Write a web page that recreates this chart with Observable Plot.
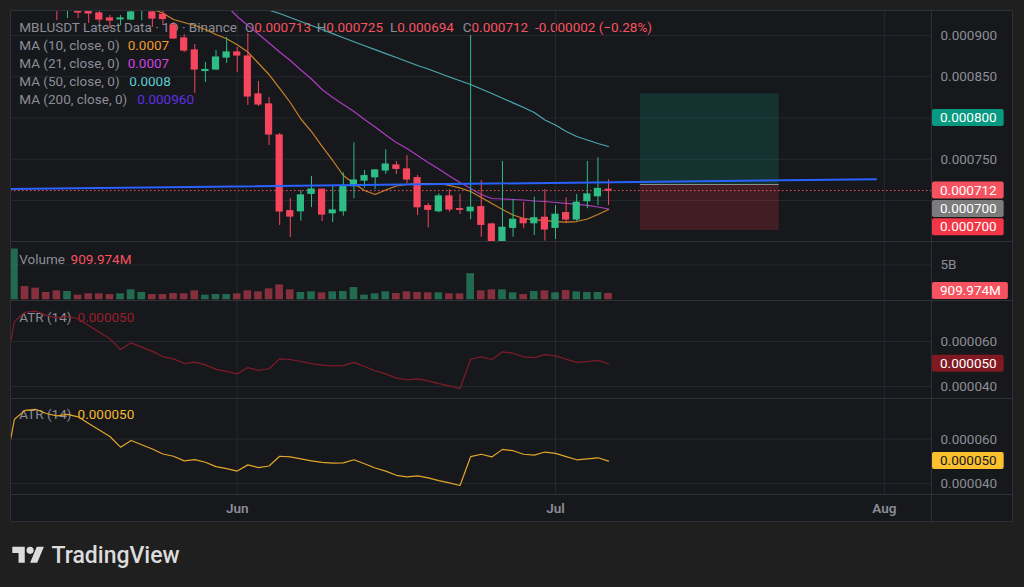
<!DOCTYPE html>
<html>
<head>
<meta charset="utf-8">
<script src="https://cdn.jsdelivr.net/npm/d3@7"></script>
<script src="https://cdn.jsdelivr.net/npm/@observablehq/plot@0.6"></script>
<style>
html,body{margin:0;padding:0;background:#1f1f1f;}
#root{position:relative;width:1024px;height:587px;background:#1f1f1f;overflow:hidden;font-family:Roboto,"Noto Sans",sans-serif;}
#frame{position:absolute;left:10px;top:10px;width:1003px;height:512px;background:#17181c;}
.pane{position:absolute;left:10px;}
.pane svg{display:block;}
.overlay{position:absolute;left:0;top:0;}
</style>
</head>
<body>
<div id="root"><div id="frame"></div></div>
<script>
// ================= DATA (prices in millionths of USDT, volume in billions) =================
const symbolTitle = "MBLUSDT Latest Data · 1D · Binance";
const firstDay = "2024-05-11";
const monthTicks = ["2024-06-01", "2024-07-01", "2024-08-01"];

const openU  = [1000,1100,1030,1000,965,940,945,932,926.7,920.6,919.6,919.4,935,927.9,925,912.1,896.4,881.8,857,858.8,873.3,879.4,874.5,828.5,816.4,778.8,687,687,708.1,713,684.6,687,717.3,724.2,728.2,736.4,742.4,737.6,727,693.1,687,704.9,689.5,687,691.9,670.9,650.7,666.9,677.3,672.5,679,666.9,684.6,677,699.2,705.2,713];
const highU  = [1200,1120,1050,1010,975,965,955,940,932,924.2,924.2,933,950,935,935,915.8,901,889,867.3,881.8,897.6,885.5,902.4,844.2,824.8,781.2,702.4,712.1,729.1,714,718.2,733.6,769.9,736.4,737,761.5,747.3,754.5,730.3,696.7,708.1,713,707.3,900,724.2,672.5,747.3,701.2,697.9,704,713.3,693.9,703.3,707.3,747.3,751.8,725];
const lowU   = [950,1010,975,950,918,920.6,920.6,914.5,915,908.5,912.1,918,918,909.7,912,895.2,879.4,829.7,843,857.6,866.1,855.2,815.2,813.9,766.7,669.7,655.2,674.9,691.5,674.5,673.3,681,702,714.9,713.3,731.5,731.5,720.2,681.8,666.9,685.1,685.8,683,676.6,655.5,650.5,650.5,655.5,665.7,657.6,650.7,652.7,671.8,674.5,690,694,694];
const closeU = [1100,1030,1000,965,935,955,927.9,926.7,919.4,918.2,920.6,927.9,945,920.6,920,896.4,881.8,858.8,858.2,873.3,879.4,875.8,826.1,816.4,780,686.7,680.6,706.1,713.3,683,687.9,717.3,724.2,729.5,736.4,743.6,738.4,725.5,691.9,688.7,704.9,689.1,688.7,691.2,670.5,650.7,666.9,676.6,672.5,678.5,664.9,682.7,677,697.2,707.3,714,712];
const volumeB = [7.3,1.9,1.67,1.05,1.29,1.19,0.67,0.86,0.86,0.76,0.86,1.43,1.05,0.76,0.76,0.9,0.86,1.29,0.67,0.76,0.76,0.86,1.29,1.14,1.57,2.14,1.43,1.05,1.14,1.0,1.14,1.19,1.76,0.67,0.86,1.14,0.9,1.14,1.05,1.0,1.0,0.86,0.86,3.76,1.29,1.43,1.43,1.0,0.76,1.19,1.29,1.0,1.33,1.14,1.05,1.05,0.909974];

const ma10U = [null,null,null,null,null,null,null,null,null,null,null,null,940,932,926.9,919.4,915.8,912.1,907.3,901.2,896.0,888.7,880.0,866.4,852.7,836.0,818.8,798.8,783.6,765.5,748.5,730.3,720.6,712.1,707.3,712.7,717.6,719.4,720.6,720.6,720.6,718.2,715.2,710.9,703.6,696.4,689.1,682.4,678.2,676.4,675.8,674.5,673.9,674.5,677.6,683.0,689.1];
const ma21U = [null,null,null,null,null,null,null,null,null,null,null,null,null,null,null,null,null,null,null,null,936,923.0,912.1,901.8,890.9,880.0,869.7,858.2,847.3,834.5,824.8,816.4,807.9,798.2,789.1,779.4,770.3,763.0,754.5,746.1,738.2,729.7,721.8,714.5,707.3,702.4,701.8,701.2,700.6,699.4,698.8,697.6,696.4,695.2,694.0,692.1,689.7];
const ma50U = [null,null,null,null,null,null,null,null,null,null,null,null,null,null,null,null,null,null,null,null,null,null,null,935,930.6,926.7,921.8,917.0,912.1,907.3,902.2,897.2,892.4,887.5,882.8,878.1,873.3,868.5,863.6,859.4,854.5,849.7,845.2,840.6,835.2,829.7,824.0,818.3,812.7,806.7,797.6,791.5,783.6,777.6,773.3,769.1,765.5];

// ATR(14) starts one day before the first visible candle
const atrFirstDay = "2024-05-10";
const atrU = [43.6,69.0,73.0,73.5,71.6,70.5,71.2,70.1,67.1,64.1,61.2,56.4,59.4,57.5,55.6,53.3,52.3,50.2,50.8,49.6,47.6,46.7,45.6,48.4,47.2,47.9,52.3,52.0,51.1,50.2,49.5,49.2,49.3,50.7,48.9,47.0,45.6,43.7,43.0,43.4,42.5,41.3,40.3,39.1,52.1,53.2,52.0,55.4,54.8,53.2,52.8,54.2,53.6,52.1,50.7,51.1,51.6,50.1];

// drawn trend line and long-position tool
const trendDates = ["2024-05-10T00:00Z", "2024-07-31T05:00Z"];
const trendU = [713.8, 725.8];
const positionDates = ["2024-07-09T00:00Z", "2024-07-22T02:00Z"];
const positionU = {target: 829.3, entry: 719.4, stop: 663.6};

// legend texts
const maLabels = ["MA (10, close, 0)", "MA (21, close, 0)", "MA (50, close, 0)", "MA (200, close, 0)"];
const maValues = ["0.0007", "0.0007", "0.0008", "0.000960"];
// right-scale markers (price pane)
const priceMarkers = [800, 712, 700, 700];
const priceGridU = [700, 750, 800, 850, 900];
const priceTickU = [750, 850, 900];
const volumeTickB = [5];
const atrTickU = [40, 60];

// ================= STYLE =================
const UP = "#2ebd85", DOWN = "#f6465d";
const VUP = "rgba(46,189,133,0.5)", VDOWN = "rgba(246,70,93,0.5)";
const GRID = "#25282f", SEP = "#2e3037", TXT = "#8b8e97";
const C_MA10 = "#c98427", C_MA21 = "#ad3cc2", C_MA50 = "#4aa9ae";
const L_MA = ["#ef9b2c", "#cf42e0", "#5ccfd6", "#5b30e6"];
const C_ATR1 = "#801c28", C_ATR2 = "#e2a628";
const markerFills = ["#089981", "#f7525f", "#7c7c7c", "#f23645"];

// ================= BUILD =================
const root = document.getElementById("root");
const DAY = 864e5;
const t0 = new Date(firstDay + "T00:00Z");
const shift = (d, k) => new Date(+d + k * DAY);
const dates = d3.utcDay.range(t0, d3.utcDay.offset(t0, openU.length));
const atrStart = new Date(atrFirstDay + "T00:00Z");
const atrDates = d3.utcDay.range(atrStart, d3.utcDay.offset(atrStart, atrU.length));
const months = monthTicks.map(s => new Date(s + "T00:00Z"));
const xDomain = [shift(t0, -0.37), shift(t0, 86.44)];
const fmtP = v => (v / 1e6).toFixed(6);

const candles = dates.map((date, i) => ({date, o: openU[i], h: highU[i], l: lowU[i], c: closeU[i], v: volumeB[i]}));
const isUp = d => d.c >= d.o;
const maSeries = (arr) => dates.map((date, i) => ({date, v: arr[i]})).filter(d => d.v != null);
const atrData = atrDates.map((date, i) => ({date, v: atrU[i]}));
const trend = trendDates.map((s, i) => ({date: new Date(s), v: trendU[i]}));
const position = [{start: new Date(positionDates[0]), end: new Date(positionDates[1]), ...positionU}];
const W = 1003, MR = 82;

// legend layer (beneath the panes, as in the reference)
const under = d3.select(root).append("svg").attr("class", "overlay").attr("width", 1024).attr("height", 587)
  .style("font-family", "Roboto, sans-serif");

function pane(top, height, yDomain, marks, mb = 0) {
  const svg = Plot.plot({
    width: W, height, marginTop: 0, marginBottom: mb, marginLeft: 0, marginRight: MR,
    x: {type: "utc", domain: xDomain, axis: null},
    y: {domain: yDomain, axis: null},
    color: {type: "identity"},
    style: {background: "transparent", color: TXT, fontFamily: "Roboto, sans-serif", fontSize: "13.5px", overflow: "visible"},
    marks
  });
  const div = document.createElement("div");
  div.className = "pane";
  div.style.top = top + "px";
  div.appendChild(svg);
  root.appendChild(div);
  return svg;
}

const lastC = candles[candles.length - 1];
const priceSvg = pane(10, 231, [650.3, 930.3], [
  Plot.gridX(months, {stroke: GRID, strokeOpacity: 1}),
  Plot.gridY(priceGridU, {stroke: GRID, strokeOpacity: 1}),
  Plot.axisY(priceTickU, {anchor: "right", tickSize: 0, tickPadding: 9, tickFormat: fmtP, label: null}),
  Plot.rect(position, {x1: "start", x2: "end", y1: "entry", y2: "target", fill: "rgba(8,153,129,0.2)"}),
  Plot.rect(position, {x1: "start", x2: "end", y1: "stop", y2: "entry", fill: "rgba(242,54,69,0.2)"}),
  Plot.ruleY(position, {x1: "start", x2: "end", y: "entry", stroke: "#8f9198", strokeWidth: 1}),
  Plot.line(maSeries(ma50U), {x: "date", y: "v", stroke: C_MA50, strokeWidth: 1.2, clip: true}),
  Plot.line(maSeries(ma21U), {x: "date", y: "v", stroke: C_MA21, strokeWidth: 1.2, clip: true}),
  Plot.line(maSeries(ma10U), {x: "date", y: "v", stroke: C_MA10, strokeWidth: 1.2, clip: true}),
  Plot.ruleY([lastC.c], {stroke: "#f7525f", strokeWidth: 1, strokeDasharray: "1.5 2.5"}),
  Plot.ruleX(candles, {x: "date", y1: "l", y2: "h", stroke: d => isUp(d) ? UP : DOWN, strokeWidth: 1, clip: true}),
  Plot.rect(candles, {x1: d => shift(d.date, -0.34), x2: d => shift(d.date, 0.34), y1: d => Math.min(d.o, d.c), y2: d => Math.max(d.o, d.c), fill: d => isUp(d) ? UP : DOWN, insetTop: -0.6, insetBottom: -0.6, clip: true}),
  Plot.line(trend, {x: "date", y: "v", stroke: "#2962ff", strokeWidth: 2, clip: true})
]);

const volSvg = pane(241, 59, [-0.1, 8.38], [
  Plot.gridX(months, {stroke: GRID, strokeOpacity: 1}),
  Plot.gridY(volumeTickB, {stroke: GRID, strokeOpacity: 1}),
  Plot.axisY(volumeTickB, {anchor: "right", tickSize: 0, tickPadding: 9, tickFormat: v => v + "B", label: null}),
  Plot.rectY(candles, {x1: d => shift(d.date, -0.36), x2: d => shift(d.date, 0.36), y: "v", fill: d => isUp(d) ? VUP : VDOWN, clip: true})
]);

const atr1Svg = pane(300, 98, [34.67, 78.22], [
  Plot.gridX(months, {stroke: GRID, strokeOpacity: 1}),
  Plot.gridY(atrTickU, {stroke: GRID, strokeOpacity: 1}),
  Plot.axisY(atrTickU, {anchor: "right", tickSize: 0, tickPadding: 9, tickFormat: fmtP, label: null}),
  Plot.line(atrData, {x: "date", y: "v", stroke: C_ATR1, strokeWidth: 1.2, clip: true})
]);

const atr2Svg = pane(398, 124, [35.03, 78.37], [
  Plot.gridX(months, {stroke: GRID, strokeOpacity: 1}),
  Plot.gridY(atrTickU, {stroke: GRID, strokeOpacity: 1}),
  Plot.axisY(atrTickU, {anchor: "right", tickSize: 0, tickPadding: 9, tickFormat: fmtP, label: null}),
  Plot.axisX(months, {anchor: "bottom", tickSize: 0, tickPadding: 9, tickFormat: d3.utcFormat("%b"), fontWeight: 600, label: null}),
  Plot.line(atrData, {x: "date", y: "v", stroke: C_ATR2, strokeWidth: 1.2, clip: true})
], 28);

// ================= legends (under layer) =================
const leg = under.append("g").style("font-size", "13.5px");
leg.append("text").attr("x", 19.3).attr("y", 31.7).attr("fill", TXT).text(symbolTitle);
const red = "#f7525f";
const prev = candles[candles.length - 2];
const ohlc = [["O", lastC.o, 245], ["H", lastC.h, 316.7], ["L", lastC.l, 390], ["C", lastC.c, 462.7]];
ohlc.forEach(([k, v, x]) => {
  const t = leg.append("text").attr("x", x).attr("y", 31.7);
  t.append("tspan").attr("fill", TXT).text(k);
  t.append("tspan").attr("fill", red).text(fmtP(v));
});
const chg = lastC.c - prev.c;
leg.append("text").attr("x", 535).attr("y", 31.7).attr("fill", red)
  .text(`${(chg / 1e6).toFixed(6)} (${chg < 0 ? "\u2212" : "+"}${Math.abs(chg / prev.c * 100).toFixed(2)}%)`);
const maValX = [127.7, 127.7, 129.3, 137.3];
maLabels.forEach((lab, i) => {
  const y = 50 + i * 18;
  leg.append("text").attr("x", 19.3).attr("y", y).attr("fill", TXT).text(lab);
  leg.append("text").attr("x", maValX[i]).attr("y", y).attr("fill", L_MA[i]).text(maValues[i]);
});
const volTxt = d3.format(".3f")(lastC.v * 1000) + "M";
leg.append("text").attr("x", 19.3).attr("y", 264).attr("fill", TXT).text("Volume");
leg.append("text").attr("x", 70.6).attr("y", 264).attr("fill", red).text(volTxt);
const atrLast = fmtP(atrU[atrU.length - 1]);
leg.append("text").attr("x", 19.3).attr("y", 321.7).attr("fill", TXT).text("ATR (14)");
leg.append("text").attr("x", 77.6).attr("y", 321.7).attr("fill", "#9a1f2c").text(atrLast);
leg.append("text").attr("x", 19.3).attr("y", 419.3).attr("fill", TXT).text("ATR (14)");
leg.append("text").attr("x", 77.6).attr("y", 419.3).attr("fill", "#f5b92e").text(atrLast);

// ================= OVERLAY: separators, price badges, logo =================
const ov = d3.select(root).append("svg").attr("class", "overlay").attr("width", 1024).attr("height", 587)
  .style("font-family", "Roboto, sans-serif");
[241, 300, 398, 494].forEach(y => ov.append("line").attr("x1", 10).attr("x2", 1013).attr("y1", y + 0.5).attr("y2", y + 0.5).attr("stroke", SEP));
ov.append("line").attr("x1", 931.5).attr("x2", 931.5).attr("y1", 10).attr("y2", 522).attr("stroke", SEP);
ov.append("rect").attr("x", 10.5).attr("y", 10.5).attr("width", 1002).attr("height", 511).attr("fill", "none").attr("stroke", SEP);

function badge(cy, text, fill, color = "#ffffff") {
  const g = ov.append("g");
  const r = g.append("rect").attr("x", 932).attr("y", cy - 8.5).attr("height", 17).attr("rx", 2).attr("fill", fill);
  const t = g.append("text").attr("x", 940).attr("y", cy).attr("dy", "0.35em").attr("fill", color).style("font-size", "13.5px").text(text);
  const w = t.node().getComputedTextLength();
  r.attr("width", w + 15);
}
const yP = v => 10 + priceSvg.scale("y").apply(v);
let lastCy = -Infinity;
priceMarkers.map((v, i) => ({v, i, cy: yP(v)})).forEach(m => {
  let cy = m.cy;
  if (m.i >= 2 && cy < lastCy + 18.3) cy = lastCy + 18.3;
  badge(cy, fmtP(m.v), markerFills[m.i]);
  lastCy = cy;
});
badge(Math.min(241 + volSvg.scale("y").apply(lastC.v), 300 - 9.5), volTxt, red);
badge(300 + atr1Svg.scale("y").apply(atrU[atrU.length - 1]), atrLast, "#801922");
badge(398 + atr2Svg.scale("y").apply(atrU[atrU.length - 1]), atrLast, "#fbc02d", "#131722");

// TradingView logo
const logo = ov.append("g").attr("transform", "translate(12.3,543.2) scale(0.89)").attr("fill", "#dcdcdc");
logo.append("path").attr("d", "M14 22H7V11H0V4h14v18z");
logo.append("circle").attr("cx", 20).attr("cy", 8).attr("r", 4);
logo.append("path").attr("d", "M28 22h-8l7.5-18h8L28 22z");
ov.append("text").attr("x", 51.5).attr("y", 562.7).attr("fill", "#dcdcdc").style("font-size", "23px").style("font-weight", 500).text("TradingView");
</script>
</body>
</html>
